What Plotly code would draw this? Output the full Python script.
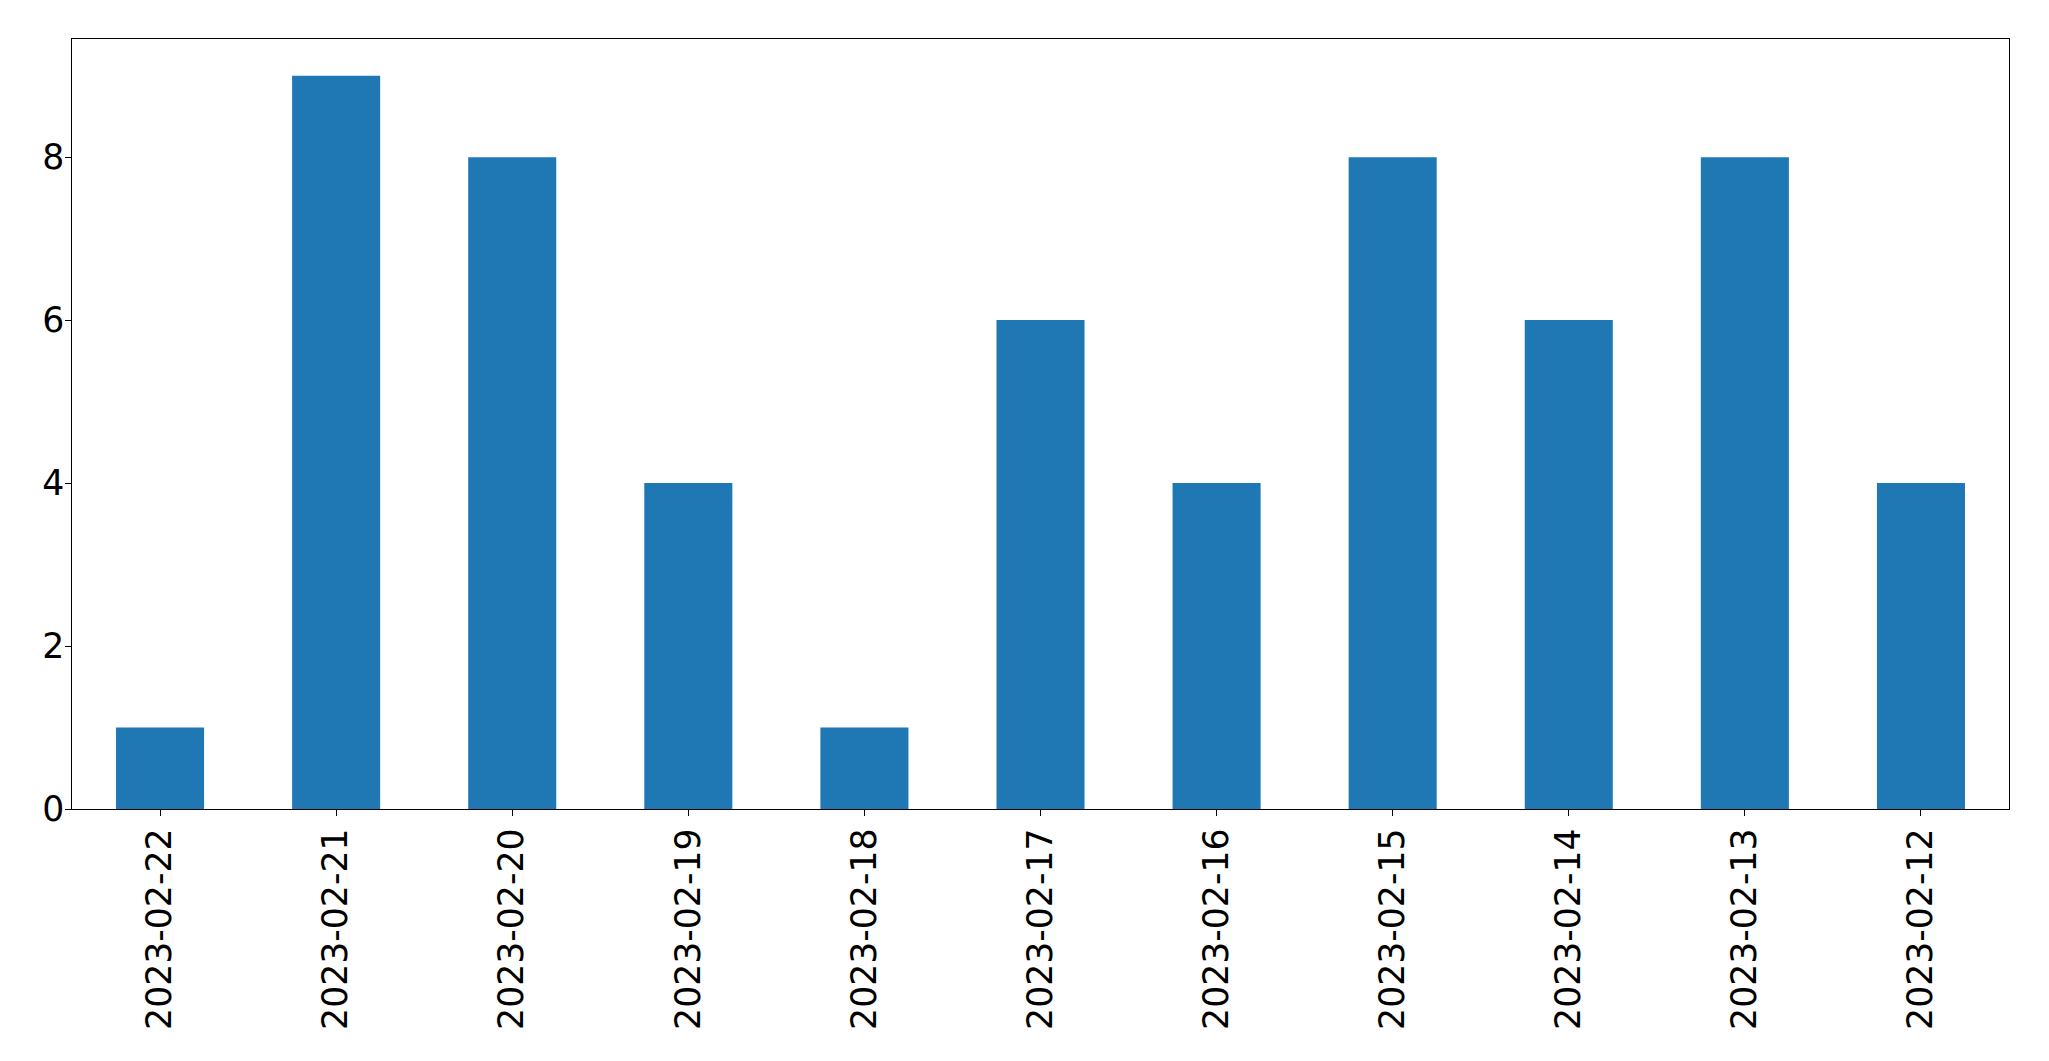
import plotly.graph_objects as go

dates = ["2023-02-22", "2023-02-21", "2023-02-20", "2023-02-19", "2023-02-18",
         "2023-02-17", "2023-02-16", "2023-02-15", "2023-02-14", "2023-02-13", "2023-02-12"]
counts = [1, 9, 8, 4, 1, 6, 4, 8, 6, 8, 4]
y_ticks = [0, 2, 4, 6, 8]

fig = go.Figure(go.Bar(x=dates, y=counts, width=0.5, marker=dict(color="#1f77b4", line=dict(width=0))))

font = dict(family="DejaVu Sans", size=34.67, color="black")
fig.update_layout(
    width=2041, height=1053,
    margin=dict(l=64.3, r=39.7, t=31.3, b=252, pad=0),
    paper_bgcolor="white", plot_bgcolor="white",
    showlegend=False, font=font,
)
fig.update_xaxes(
    type="category", range=[-0.5, 10.5], tickangle=-90,
    showline=True, mirror=True, linecolor="black", linewidth=1.3,
    ticks="outside", ticklen=5.5, tickwidth=1.2, tickcolor="black",
    showgrid=False, zeroline=False, tickfont=font, ticklabelstandoff=-1,
)
fig.update_yaxes(
    range=[0, 9.45], tickvals=y_ticks, ticktext=[str(v) for v in y_ticks],
    showline=True, mirror=True, linecolor="black", linewidth=1.3,
    ticks="outside", ticklen=5.5, tickwidth=1.2, tickcolor="black",
    showgrid=False, zeroline=False, tickfont=font, ticklabelstandoff=-6,
)
fig.write_html("out.html")
